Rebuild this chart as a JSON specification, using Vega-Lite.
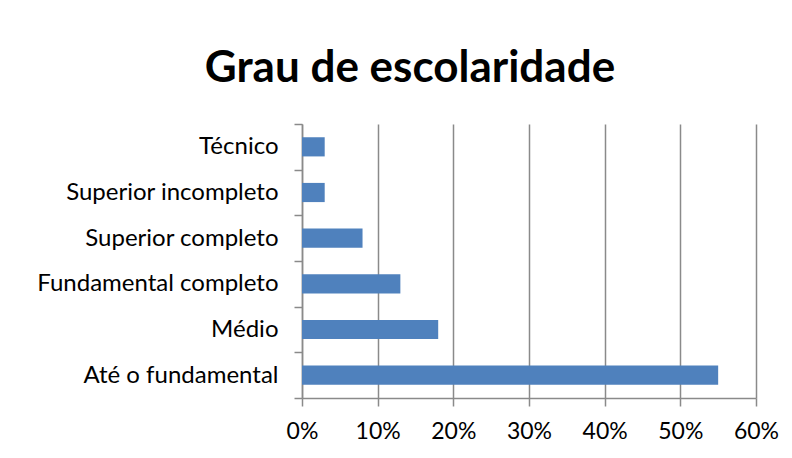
{
  "$schema": "https://vega.github.io/schema/vega-lite/v6.json",
  "width": 454,
  "height": 274,
  "autosize": {"type": "none"},
  "padding": {"left": 302, "top": 124, "right": 36, "bottom": 60},
  "background": "white",
  "title": {
    "text": "Grau de escolaridade",
    "font": "Lato",
    "fontSize": 44,
    "fontWeight": "bold",
    "color": "#000000",
    "anchor": "middle",
    "frame": "group",
    "dx": -119,
    "offset": 21
  },
  "data": {
    "values": [
      {"categoria": "Técnico", "valor": 0.03, "ordem": 1},
      {"categoria": "Superior incompleto", "valor": 0.03, "ordem": 2},
      {"categoria": "Superior completo", "valor": 0.08, "ordem": 3},
      {"categoria": "Fundamental completo", "valor": 0.13, "ordem": 4},
      {"categoria": "Médio", "valor": 0.18, "ordem": 5},
      {"categoria": "Até o fundamental ", "valor": 0.55, "ordem": 6}
    ]
  },
  "mark": {"type": "bar", "color": "#4F81BD", "height": {"band": 0.42}},
  "encoding": {
    "y": {
      "field": "categoria",
      "type": "nominal",
      "sort": {"field": "ordem", "order": "ascending"},
      "scale": {"paddingInner": 0, "paddingOuter": 0},
      "axis": {
        "title": null,
        "labelFont": "Lato",
        "labelFontSize": 24,
        "labelColor": "#000000",
        "labelPadding": 16,
        "labelLimit": 300,
        "tickBand": "extent",
        "tickSize": 8,
        "tickWidth": 1.5,
        "tickColor": "#8a8a8a",
        "domainColor": "#8a8a8a",
        "domainWidth": 1.5,
        "grid": false
      }
    },
    "x": {
      "field": "valor",
      "type": "quantitative",
      "scale": {"domain": [0, 0.6], "nice": false},
      "axis": {
        "title": null,
        "format": ".0%",
        "values": [0, 0.1, 0.2, 0.3, 0.4, 0.5, 0.6],
        "labelFont": "Lato",
        "labelFontSize": 23,
        "labelColor": "#000000",
        "labelPadding": 14,
        "labelFlush": false,
        "tickSize": 8,
        "tickWidth": 1.5,
        "tickColor": "#8a8a8a",
        "domainColor": "#8a8a8a",
        "domainWidth": 1.5,
        "grid": true,
        "gridColor": "#8a8a8a",
        "gridWidth": 1.5
      }
    }
  },
  "config": {"view": {"stroke": null}}
}
